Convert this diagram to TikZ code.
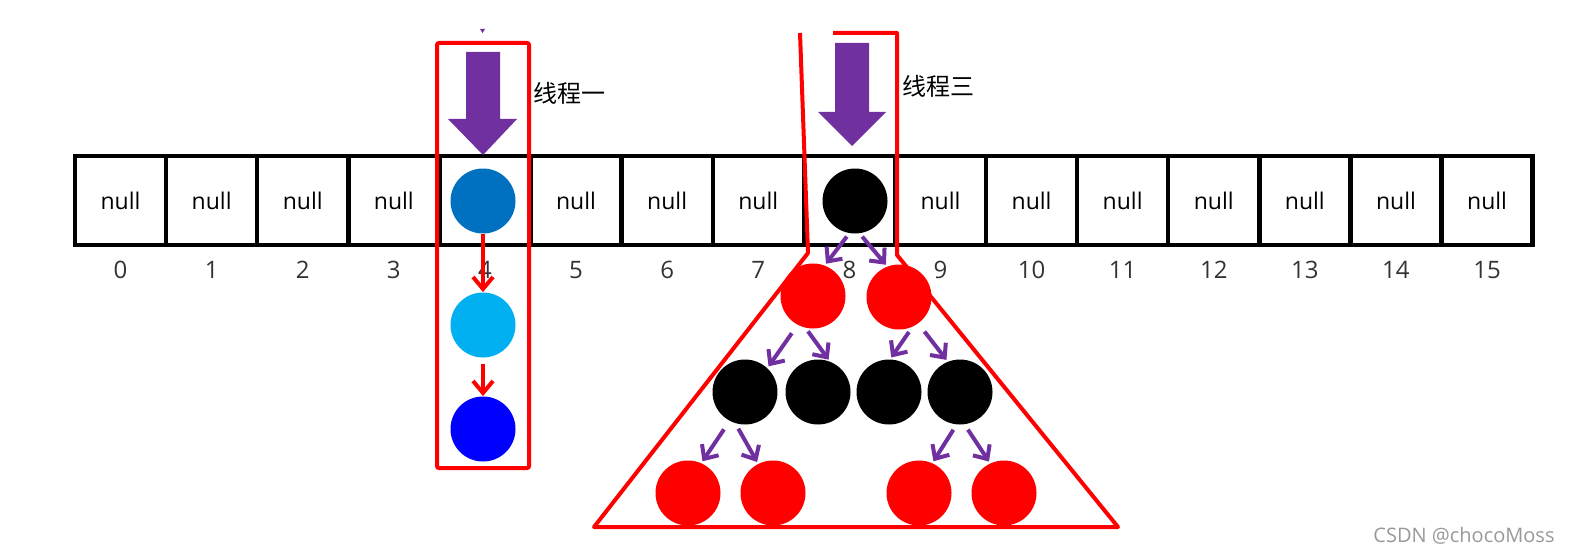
\documentclass[tikz,border=0pt]{standalone}
\usepackage{fontspec}
\setmainfont{Open Sans}
\newfontfamily\cjk{Noto Sans CJK SC}
\usetikzlibrary{arrows.meta}
\definecolor{thpurple}{HTML}{7030A0}
\definecolor{headblue}{HTML}{0070C0}
\definecolor{nextcyan}{HTML}{00B0F0}
\definecolor{lastblue}{HTML}{0000FF}

\begin{document}
\begin{tikzpicture}[x=0.5pt,y=-0.5pt,
  cellbox/.style={draw, line width=2.2pt, minimum width=45.55pt, minimum height=44.5pt, inner sep=0pt, font=\fontsize{11.5}{14}\selectfont},
  idx/.style={font=\fontsize{12}{14}\selectfont, text=black!80},
  ball/.style={circle, minimum size=32.5pt, inner sep=0pt},
  link/.style={draw=red, line width=2pt, -{Straight Barb[length=6pt,width=10pt]}},
  kid/.style={draw=thpurple, line width=2pt, -{Straight Barb[length=5.5pt,width=10pt]}, shorten >=1pt, shorten <=2pt},
  redline/.style={draw=red, line width=2pt, line join=round}]
\useasboundingbox (0,0) rectangle (1573,556);

% the table, 16 buckets
\foreach \i in {0,...,15}{
  \ifnum\i=4 \def\txt{}\else\ifnum\i=8 \def\txt{}\else\def\txt{null}\fi\fi
  \node[cellbox](c\i) at ({75+91.1*(\i+0.5)},200.5){\txt};
  \node[idx](n\i) at ({75+91.1*(\i+0.5)},270){\i};
}

% thread one: linked list in bucket 4
\node[ball, fill=headblue](h1) at (483,201){};
\node[ball, fill=nextcyan](h2) at (483,325){};
\node[ball, fill=lastblue](h3) at (483,429){};
\draw[link] (h1.south) -- (h2.north);
\draw[link, shorten <=3pt] (h2.south) -- (h3.north);
\draw[red, line width=2pt, rounded corners=1pt] (437,43) rectangle (529,468);
\fill[thpurple] (466,52) -- (500,52) -- (500,119) -- (517,119) -- (483,155) -- (448,119) -- (466,119) -- cycle;
\fill[thpurple] (480,29) -- (485,29) -- (482.5,33) -- cycle;
\node[font=\cjk\fontsize{12}{14}\selectfont](t1) at (569,93){线程一};

% thread three: red-black tree in bucket 8
\draw[redline] (833,33) -- (897,33) -- (897,255) -- (1118,527) -- (594,527) -- (808,253) -- (800,33);
\fill[thpurple] (835,43) -- (869,43) -- (869,112) -- (886,112) -- (852,146) -- (818,112) -- (835,112) -- cycle;
\node[font=\cjk\fontsize{12}{14}\selectfont](t3) at (938,86){线程三};

\node[ball, fill=black](root) at (855,201){};
\node[ball, fill=red](r1) at (813,296){};
\node[ball, fill=red](r2) at (899,297){};
\node[ball, fill=black](b1) at (745,392){};
\node[ball, fill=black](b2) at (818,392){};
\node[ball, fill=black](b3) at (889,392){};
\node[ball, fill=black](b4) at (960,392){};
\node[ball, fill=red](l1) at (688,493){};
\node[ball, fill=red](l2) at (773,493){};
\node[ball, fill=red](l3) at (919,493){};
\node[ball, fill=red](l4) at (1004,493){};

\draw[kid] (root.260) -- (r1.69);
\draw[kid] (root.278) -- (r2.111);
\draw[kid, shorten <=5pt] (r1.242) -- (b1.47);
\draw[kid] (r1.257) -- (b2.69);
\draw[kid, shorten <=3pt] (r2.294) -- (b3.88);
\draw[kid, shorten <=5pt] (r2.306) -- (b4.112);
\draw[kid, shorten <=5pt] (b1.242) -- (l1.66);
\draw[kid, shorten <=3pt] (b1.253) -- (l2.117);
\draw[kid, shorten <=3pt] (b4.264) -- (l3.66);
\draw[kid, shorten <=3pt] (b4.278) -- (l4.115);

\node[text=black!40, font=\fontsize{10}{12}\selectfont](wm) at (1464,536){CSDN @chocoMoss};
\end{tikzpicture}
\end{document}
